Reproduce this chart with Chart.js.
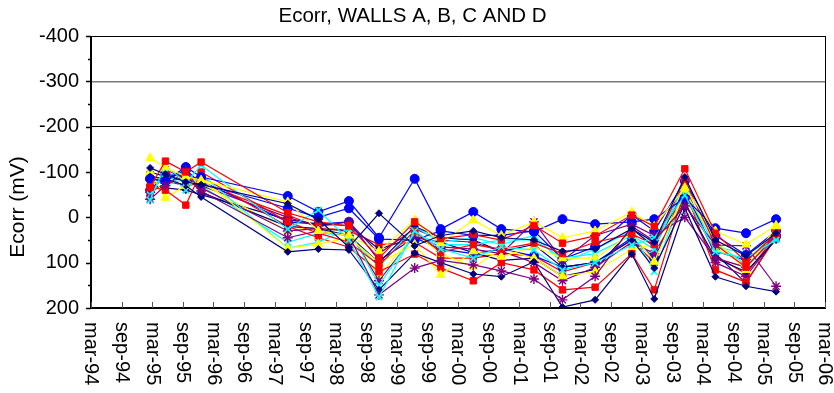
<!DOCTYPE html>
<html>
<head>
<meta charset="utf-8">
<script src="https://cdn.jsdelivr.net/npm/chart.js@4/dist/chart.umd.min.js"></script>
<style>
  html, body { margin: 0; padding: 0; background: #fff; }
  #wrap { width: 834px; height: 393px; }
</style>
</head>
<body>
<div id="wrap"><canvas id="chart" width="834" height="393"></canvas></div>
<script>
// Half-yearly axis labels, March 1994 to March 2006
const axisLabels = ['mar-94','sep-94','mar-95','sep-95','mar-96','sep-96','mar-97','sep-97',
  'mar-98','sep-98','mar-99','sep-99','mar-00','sep-00','mar-01','sep-01','mar-02','sep-02',
  'mar-03','sep-03','mar-04','sep-04','mar-05','sep-05','mar-06'];

// Survey dates
const surveyDates = ['1995-02-19','1995-05-19','1995-09-19','1995-12-19','1997-05-19','1997-11-19',
  '1998-05-19','1998-11-16','1999-06-16','1999-11-19','2000-06-01','2000-11-16','2001-05-28',
  '2001-11-16','2002-05-28','2003-01-04','2003-05-16','2003-11-16','2004-05-16','2004-11-16',
  '2005-05-13'];

// Ecorr readings (mV) per measuring point, one value per survey
const pointA1 = [-109, -95, -78, -72, -30, 5, 66, -9, 63, 40, 30, 45, 50, 75, 70, 25, 55, -89, 50, 85, 35];
const pointA2 = [-67, -124, -100, -122, -10, 10, 19, 90, 10, 47, 38, 50, 18, 57, 41, -5, 20, -107, 35, 98, 35];
const pointA3 = [-131, -110, -90, -82, -34, 30, 40, 75, 6, 57, 6, 40, 10, 45, 30, -12, 20, -65, 30, 60, 18];
const pointA4 = [-38, -115, -76, -115, 26, -16, 50, 176, 30, 70, 90, 65, 72, 116, 100, 61, 45, -49, 76, 90, 50];
const pointA5 = [-40, -70, -102, -58, 45, 30, 40, 171, 112, 95, 105, 118, 136, 182, 130, 20, 52, -25, 61, 63, 152];
const pointA6 = [-85, -80, -111, -89, -47, -12, -36, 45, -85, 26, -12, 26, 32, 4, 15, 10, 4, -43, 24, 35, 4];

const pointB1 = [-90, -85, -70, -45, 76, 70, 72, 160, 79, 100, 125, 131, 98, 198, 182, 81, 180, -20, 131, 152, 164];
const pointB2 = [-67, -60, -27, -100, 10, 35, 55, 105, 30, 77, 60, 70, 57, 80, 55, 37, 60, -80, 60, 110, 40];
const pointB3 = [-100, -43, -70, -85, 68, 59, 45, 100, 60, 127, 75, 87, 65, 90, 90, 35, 98, -55, 50, 116, 20];
const pointB4 = [-50, -100, -60, -95, 68, 55, 25, 150, 35, 60, 60, 50, 50, 90, 80, 40, 70, -75, 55, 105, 45];
const pointB5 = [-55, -75, -90, -65, 30, 25, 30, 140, 40, 65, 70, 80, 10, 95, 40, 15, 40, 0, 90, 110, 40];
const pointB6 = [-85, -80, -105, -75, -20, 0, -20, 48, 50, 30, 40, 40, 30, 92, 65, -5, 30, -80, 40, 83, 30];

const pointC1 = [-100, -90, -95, -55, 20, 25, 40, 100, 20, 45, 50, 75, 60, 110, 100, 50, 112, -30, 90, 120, 50];
const pointC2 = [-45, -105, -85, -90, 20, 45, 66, 120, 81, 112, 140, 100, 116, 160, 154, 80, 160, -60, 116, 143, 45];
const pointC3 = [-80, -90, -95, -75, 30, 20, 35, 130, 35, 80, 110, 70, 90, 130, 120, 70, 60, -40, 70, 100, 30];
const pointC4 = [-90, -70, -85, -70, 55, 35, 40, 110, 20, 55, 45, 60, 40, 100, 70, 30, 120, -60, 65, 80, 48];
const pointC5 = [-60, -90, -80, -70, 0, 20, 10, 80, 25, 50, 55, 75, 100, 140, 110, 55, 80, -35, 100, 130, 45];
const pointC6 = [-60, -95, -90, -80, 10, 15, 10, 95, 45, 70, 80, 70, 85, 110, 100, 45, 90, -45, 75, 95, 40];

const pointD1 = [-70, -65, -60, -50, 5, 15, 18, 70, 45, 55, 78, 95, 90, 130, 115, 25, 65, -60, 80, 145, 40];
const pointD2 = [-75, -80, -70, -75, -5, 22, 30, 60, 55, 90, 90, 80, 85, 120, 100, 50, 100, -70, 85, 125, 40];

const seriesNames = ['A1','A2','A3','A4','A5','A6','B1','B2','B3','B4','B5','B6',
  'C1','C2','C3','C4','C5','C6','D1','D2'];
const seriesValues = [pointA1, pointA2, pointA3, pointA4, pointA5, pointA6,
  pointB1, pointB2, pointB3, pointB4, pointB5, pointB6,
  pointC1, pointC2, pointC3, pointC4, pointC5, pointC6,
  pointD1, pointD2];

// Marker / line styles cycle in this order for every wall
const markerStyles = [
  { color: '#000080', style: 'rectRot', radius: 3.5, bw: 1 },
  { color: '#FF0000', style: 'rect', radius: 4.5, bw: 1 },
  { color: '#FFFF00', style: 'triangle', radius: 5, bw: 1 },
  { color: '#00FFFF', style: 'crossRot', radius: 4.5, bw: 1.6 },
  { color: '#800080', style: 'star', radius: 5, bw: 1.4 },
  { color: '#0000FF', style: 'circle', radius: 4.5, bw: 1 }
];

// x positions are months after March 1994
function monthsFromStart(d) {
  const [y, m, day] = d.split('-').map(Number);
  return (y - 1994) * 12 + (m - 3) + (day - 1) / 30;
}
const surveyX = surveyDates.map(monthsFromStart);

const datasets = seriesValues.map((vals, i) => {
  const st = markerStyles[i % markerStyles.length];
  return {
    label: seriesNames[i],
    data: vals.map((v, j) => ({ x: surveyX[j], y: v })),
    borderColor: st.color,
    backgroundColor: st.color,
    borderWidth: 1.2,
    pointStyle: st.style,
    pointRadius: st.radius,
    pointBorderWidth: st.bw,
    pointBorderColor: st.color,
    pointBackgroundColor: st.color,
    tension: 0,
    fill: false
  };
});

const FONT = "'Liberation Sans', Arial, sans-serif";

// Frame, tick marks, rotated month labels and the y-axis title
const decorations = {
  id: 'decorations',
  beforeDatasetsDraw(chart) {
    const { ctx, chartArea: a } = chart;
    ctx.save();
    ctx.strokeStyle = '#000';
    ctx.lineWidth = 1;
    ctx.beginPath();
    ctx.moveTo(a.left, a.top + 0.5); ctx.lineTo(a.right + 0.5, a.top + 0.5);
    ctx.moveTo(a.right + 0.5, a.top); ctx.lineTo(a.right + 0.5, a.bottom);
    ctx.stroke();
    ctx.restore();
  },
  afterDraw(chart) {
    const { ctx, chartArea: a } = chart;
    const xs = chart.scales.x, ys = chart.scales.y;
    ctx.save();
    // axis lines
    ctx.strokeStyle = '#000';
    ctx.lineWidth = 2;
    ctx.beginPath();
    ctx.moveTo(a.left, a.top); ctx.lineTo(a.left, a.bottom + 1);
    ctx.moveTo(a.left - 1, a.bottom); ctx.lineTo(a.right + 1, a.bottom);
    ctx.stroke();
    // y tick marks: major every 100, minor every 50
    ctx.lineWidth = 1.5;
    ctx.beginPath();
    for (let v = ys.min; v <= ys.max; v += 50) {
      const y = Math.round(ys.getPixelForValue(v)) + 0.5;
      const len = (v % 100 === 0) ? 5 : 3;
      ctx.moveTo(a.left - len, y); ctx.lineTo(a.left, y);
    }
    ctx.stroke();
    // x tick marks pointing inward
    ctx.strokeStyle = '#555';
    ctx.lineWidth = 1;
    ctx.beginPath();
    axisLabels.forEach((_, i) => {
      const x = Math.round(xs.getPixelForValue(i * 6)) + 0.5;
      ctx.moveTo(x, a.bottom); ctx.lineTo(x, a.bottom - 6);
    });
    ctx.stroke();
    // month labels, reading top to bottom
    ctx.fillStyle = '#000';
    ctx.font = '20px ' + FONT;
    ctx.textAlign = 'left';
    ctx.textBaseline = 'middle';
    axisLabels.forEach((lab, i) => {
      const x = xs.getPixelForValue(i * 6);
      ctx.save();
      ctx.translate(x, a.bottom + 14);
      ctx.rotate(Math.PI / 2);
      ctx.fillText(lab, 0, 0);
      ctx.restore();
    });
    // y-axis title
    ctx.save();
    ctx.font = '21px ' + FONT;
    ctx.translate(18, 207);
    ctx.rotate(-Math.PI / 2);
    ctx.textAlign = 'center';
    ctx.textBaseline = 'middle';
    ctx.fillText('Ecorr (mV)', 0, 0);
    ctx.restore();
    ctx.restore();
  }
};

new Chart(document.getElementById('chart'), {
  type: 'line',
  data: { datasets },
  options: {
    responsive: false,
    animation: false,
    devicePixelRatio: 1,
    layout: { padding: { left: 0, right: 9, top: 0, bottom: 0 } },
    plugins: {
      legend: { display: false },
      tooltip: { enabled: false },
      title: {
        display: true,
        text: 'Ecorr, WALLS A, B, C AND D',
        color: '#000',
        font: { family: FONT, size: 20.5, weight: 'normal', lineHeight: 1.2 },
        padding: { top: 4, bottom: 7.4 }
      }
    },
    scales: {
      x: {
        type: 'linear',
        min: 0,
        max: 144,
        ticks: { display: false, stepSize: 6 },
        grid: { display: false },
        border: { display: false },
        afterFit(s) { s.height = 85; }
      },
      y: {
        type: 'linear',
        reverse: true,
        min: -400,
        max: 200,
        ticks: {
          stepSize: 50,
          color: '#000',
          padding: 12,
          font: { family: FONT, size: 20 },
          callback: (v) => (v % 100 === 0 ? String(v) : '')
        },
        grid: {
          drawTicks: false,
          lineWidth: (c) => c.tick.value === -300 ? 1.5 : 1,
          color: (c) => c.tick.value === -300 ? '#7a7a7a' : (c.tick.value === -200 ? '#000000' : 'rgba(0,0,0,0)')
        },
        border: { display: false },
        afterFit(s) { s.width = 91; }
      }
    }
  },
  plugins: [decorations]
});
</script>
</body>
</html>
